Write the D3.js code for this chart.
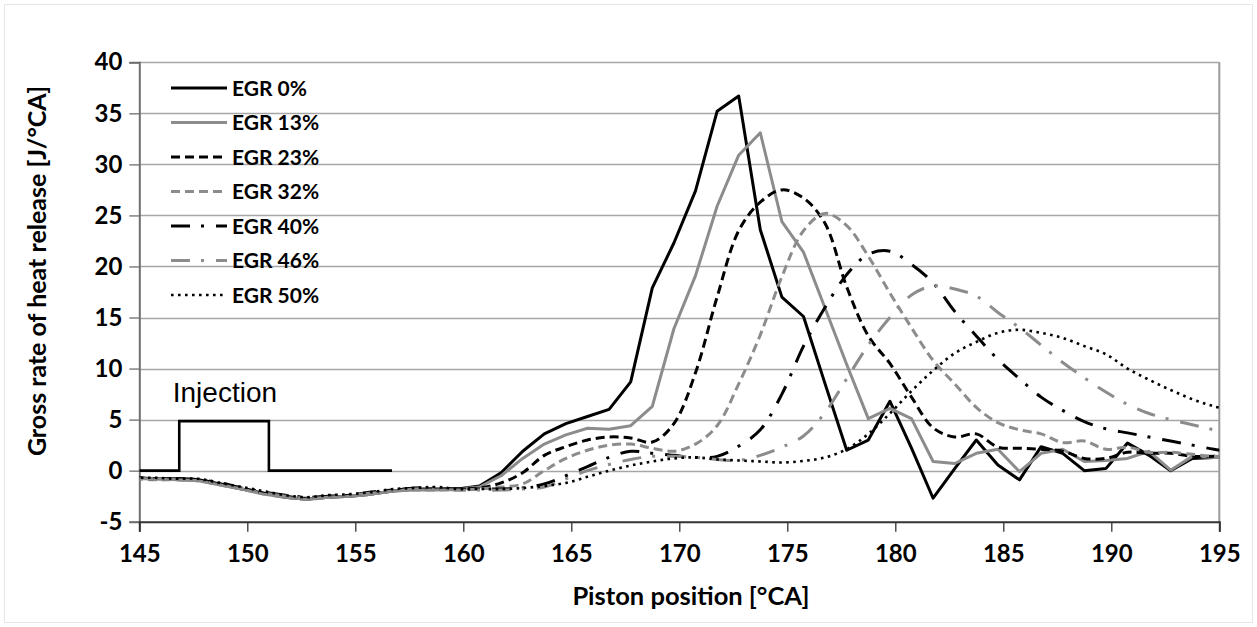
<!DOCTYPE html>
<html>
<head>
<meta charset="utf-8">
<script src="https://cdn.jsdelivr.net/npm/d3@7"></script>
<style>
  html, body { margin: 0; padding: 0; background: #fff; }
  svg { display: block; }
  .tick-label { font-family: Lato, "Open Sans", sans-serif; font-weight: 700; }
</style>
</head>
<body>
<svg id="chart" width="1257" height="627"></svg>
<script>
// Crank angle sample positions [°CA]
const crankAngle = [
  144.75, 145.75, 146.75, 147.75, 148.75, 149.75, 150.75, 151.75, 152.75, 153.75,
  154.75, 155.75, 156.75, 157.75, 158.75, 159.75, 160.75, 161.75, 162.75, 163.75,
  164.75, 165.75, 166.75, 167.75, 168.75, 169.75, 170.75, 171.75, 172.75, 173.75,
  174.75, 175.75, 176.75, 177.75, 178.75, 179.75, 180.75, 181.75, 182.75, 183.75,
  184.75, 185.75, 186.75, 187.75, 188.75, 189.75, 190.75, 191.75, 192.75, 193.75,
  194.75, 195.75
];

// Gross rate of heat release [J/°CA] for each EGR rate
const egr0 = [
  -0.7, -0.8, -0.8, -0.9, -1.3, -1.8, -2.2, -2.6, -2.8, -2.6, -2.5, -2.3, -2.0, -1.8, -1.8, -1.8, -1.5,
  -0.2, 1.9, 3.6, 4.6, 5.3, 6.0, 8.7, 17.9, 22.3, 27.4,
  35.2, 36.7, 23.6, 17.0, 15.1, 8.5, 2.0, 3.0, 6.8, 2.2,
  -2.7, 0.2, 3.0, 0.55, -0.9, 2.35, 1.7, 0.0, 0.2, 2.7,
  1.5, 0.0, 1.2, 1.3, 1.4
];
const egr13 = [
  -0.7, -0.8, -0.9, -1.0, -1.4, -1.8, -2.3, -2.6, -2.8, -2.6, -2.5, -2.3, -2.0, -1.9, -1.9, -1.8, -1.6,
  -0.5, 1.2, 2.6, 3.5, 4.15, 4.05, 4.4, 6.3, 13.9, 19.1,
  25.9, 30.9, 33.1, 24.4, 21.4, 15.9, 10.4, 5.1, 6.1, 5.1,
  0.9, 0.7, 1.7, 2.1, -0.1, 1.7, 2.1, 0.9, 1.0, 1.2,
  1.9, 0.05, 1.4, 1.3, 1.3
];
const egr23 = [
  -0.7, -0.8, -0.8, -0.9, -1.3, -1.7, -2.2, -2.5, -2.7, -2.5, -2.4, -2.2, -1.9, -1.8, -1.8, -1.8, -1.7,
  -1.2, -0.2, 1.5, 2.35, 3.0, 3.3, 3.2, 2.8, 4.6, 9.6,
  17.0, 23.5, 26.3, 27.5, 26.7, 24.2, 18.0, 13.2, 10.5, 7.2,
  4.2, 3.3, 3.6, 2.3, 2.2, 2.1, 1.9, 1.2, 1.2, 1.8,
  1.7, 1.7, 1.4, 1.4, 1.4
];
const egr32 = [
  -0.8, -0.9, -0.9, -1.0, -1.4, -1.8, -2.3, -2.6, -2.8, -2.6, -2.5, -2.3, -2.0, -1.9, -1.9, -1.9, -1.8,
  -1.6, -1.3, 0.0, 1.2, 2.0, 2.5, 2.6, 2.2, 1.9, 2.6,
  4.4, 8.5, 13.3, 19.0, 23.5, 25.2, 24.0, 21.0, 17.4, 14.0,
  10.8, 8.5, 6.2, 4.7, 4.0, 3.6, 2.75, 2.9, 2.1, 2.3,
  1.8, 1.8, 1.6, 1.4, 1.4
];
const egr40 = [
  -0.7, -0.8, -0.8, -0.9, -1.2, -1.7, -2.1, -2.4, -2.6, -2.5, -2.4, -2.1, -1.9, -1.7, -1.7, -1.8, -1.8,
  -1.8, -1.7, -1.3, -0.5, 0.4, 1.3, 1.9, 1.7, 1.5, 1.3,
  1.4, 2.4, 4.0, 7.5, 12.2, 16.0, 19.2, 21.2, 21.5, 20.2,
  18.4, 15.6, 13.2, 10.9, 9.0, 7.2, 5.9, 4.8, 4.1, 3.7,
  3.3, 2.9, 2.5, 2.1, 1.8
];
const egr46 = [
  -0.8, -0.8, -0.9, -1.0, -1.4, -1.8, -2.2, -2.5, -2.7, -2.6, -2.4, -2.2, -2.0, -1.8, -1.8, -1.9, -1.9,
  -1.9, -1.8, -1.6, -0.8, 0.0, 0.6, 1.1, 1.4, 1.4, 1.3,
  1.1, 1.0, 1.5, 2.3, 3.4, 5.7, 9.0, 12.3, 15.0, 17.2,
  18.1, 17.8, 17.1, 15.5, 14.0, 12.3, 10.6, 9.1, 7.7, 6.5,
  5.6, 5.0, 4.5, 4.0, 3.6
];
const egr50 = [
  -0.7, -0.7, -0.8, -0.8, -1.2, -1.6, -2.0, -2.4, -2.6, -2.4, -2.3, -2.1, -1.8, -1.7, -1.6, -1.8, -1.8,
  -1.8, -1.7, -1.5, -1.2, -0.6, 0.0, 0.5, 0.9, 1.2, 1.3,
  1.1, 1.0, 0.9, 0.8, 0.95, 1.3, 2.1, 3.6, 5.6, 7.8,
  9.8, 11.5, 12.6, 13.5, 13.8, 13.5, 13.0, 12.2, 11.4, 10.0,
  8.9, 7.9, 7.0, 6.3, 5.8
];

const seriesNames = ["EGR 0%", "EGR 13%", "EGR 23%", "EGR 32%", "EGR 40%", "EGR 46%", "EGR 50%"];
const seriesValues = [egr0, egr13, egr23, egr32, egr40, egr46, egr50];

// Injection command trace
const injectionX = [145, 146.85, 146.85, 151, 151, 156.7];
const injectionY = [0, 0, 4.85, 4.85, 0, 0];
const injectionLabel = "Injection";

// Axis ticks
const xTicks = [145, 150, 155, 160, 165, 170, 175, 180, 185, 190, 195];
const yTicks = [-5, 0, 5, 10, 15, 20, 25, 30, 35, 40];
const xTitle = "Piston position [°CA]";
const yTitle = "Gross rate of heat release [J/°CA]";

// Line styles per series
const styles = [
  { color: "#000000", dash: null,          width: 3,   smooth: false },
  { color: "#8c8c8c", dash: null,          width: 3,   smooth: false },
  { color: "#000000", dash: "9,5",         width: 3,   smooth: true },
  { color: "#8c8c8c", dash: "9,5",         width: 3,   smooth: true },
  { color: "#000000", dash: "19,11,3,12",  width: 3,   smooth: true },
  { color: "#8c8c8c", dash: "19,11,3,12",  width: 3,   smooth: true },
  { color: "#000000", dash: "2.6,4.4",     width: 2.6, smooth: true }
];

const svg = d3.select("#chart");
const W = 1257, H = 627;
const plot = { left: 139.3, right: 1219.3, top: 62.3, bottom: 521.7 };
const boldFont = "Lato, 'Open Sans', sans-serif";

// Chart area border
svg.append("rect")
  .attr("x", 4.5).attr("y", 4.5).attr("width", W - 9).attr("height", H - 9)
  .attr("fill", "#fff").attr("stroke", "#e6e6e6").attr("stroke-width", 1);

const x = d3.scaleLinear().domain([145, 195]).range([plot.left, plot.right]);
const y = d3.scaleLinear().domain([-5, 40]).range([plot.bottom, plot.top]);

// Horizontal gridlines
svg.append("g")
  .selectAll("line")
  .data(yTicks.filter(t => t > -5))
  .join("line")
  .attr("x1", plot.left).attr("x2", plot.right)
  .attr("y1", d => Math.round(y(d)) + 0.5).attr("y2", d => Math.round(y(d)) + 0.5)
  .attr("stroke", "#a6a6a6").attr("stroke-width", 1.3);

// Plot area frame (right side)
svg.append("line")
  .attr("x1", plot.right).attr("x2", plot.right)
  .attr("y1", plot.top).attr("y2", plot.bottom)
  .attr("stroke", "#9a9a9a").attr("stroke-width", 2);

// Y axis
const yAxis = d3.axisLeft(y).tickValues(yTicks).tickSize(10).tickPadding(7).tickFormat(d3.format("d"));
const gy = svg.append("g").attr("transform", `translate(${plot.left},0)`).call(yAxis);
gy.select(".domain").attr("stroke", "#6e6e6e").attr("stroke-width", 2);
gy.selectAll(".tick line").attr("stroke", "#6e6e6e").attr("stroke-width", 1.3);
gy.selectAll(".tick text")
  .attr("class", "tick-label")
  .attr("font-size", 24).attr("fill", "#000")
  .text(d => d < 0 ? "-" + Math.abs(d) : d);

// X axis
const xAxis = d3.axisBottom(x).tickValues(xTicks).tickSize(10).tickPadding(13).tickFormat(d3.format("d"));
const gx = svg.append("g").attr("transform", `translate(0,${plot.bottom})`).call(xAxis);
gx.select(".domain").attr("stroke", "#333").attr("stroke-width", 2);
gx.selectAll(".tick line").attr("stroke", "#333").attr("stroke-width", 1.3);
gx.selectAll(".tick text")
  .attr("class", "tick-label")
  .attr("font-size", 24).attr("fill", "#000");

// Axis titles
svg.append("text")
  .attr("x", 691).attr("y", 605)
  .attr("text-anchor", "middle")
  .attr("font-family", boldFont).attr("font-weight", 700).attr("font-size", 25.5)
  .text(xTitle);
svg.append("text")
  .attr("transform", "translate(46,271) rotate(-90)")
  .attr("text-anchor", "middle")
  .attr("font-family", boldFont).attr("font-weight", 700).attr("font-size", 25)
  .text(yTitle);

// Clip region for the curves
svg.append("clipPath").attr("id", "plot-clip")
  .append("rect")
  .attr("x", plot.left).attr("y", plot.top - 5)
  .attr("width", plot.right - plot.left).attr("height", plot.bottom - plot.top + 5);

const curves = svg.append("g").attr("clip-path", "url(#plot-clip)");

// Injection trace
const injLine = d3.line().x(d => x(d[0])).y(d => y(d[1]));
curves.append("path")
  .datum(injectionX.map((v, i) => [v, injectionY[i]]))
  .attr("d", injLine)
  .attr("fill", "none").attr("stroke", "#000").attr("stroke-width", 2.6);

svg.append("text")
  .attr("x", x(146.55)).attr("y", y(6.75))
  .attr("font-family", "'Liberation Sans', Arial, sans-serif").attr("font-size", 28)
  .text(injectionLabel);

// Heat release curves
seriesValues.forEach((vals, i) => {
  const st = styles[i];
  const line = d3.line()
    .x(d => x(d[0])).y(d => y(d[1]))
    .curve(st.smooth ? d3.curveCatmullRom.alpha(0.5) : d3.curveLinear);
  curves.append("path")
    .datum(crankAngle.map((c, j) => [c, vals[j]]))
    .attr("d", line)
    .attr("fill", "none")
    .attr("stroke", st.color)
    .attr("stroke-width", st.width)
    .attr("stroke-linejoin", "round")
    .attr("stroke-dasharray", st.dash);
});

// Legend
const legend = svg.append("g");
seriesNames.forEach((name, i) => {
  const st = styles[i];
  const ly = 88 + i * 34.5;
  legend.append("line")
    .attr("x1", 171).attr("x2", 227).attr("y1", ly).attr("y2", ly)
    .attr("stroke", st.color).attr("stroke-width", st.width)
    .attr("stroke-dasharray", st.dash);
  legend.append("text")
    .attr("x", 232).attr("y", ly).attr("dy", "0.36em")
    .attr("font-family", boldFont).attr("font-weight", 700).attr("font-size", 21)
    .text(name);
});
</script>
</body>
</html>
